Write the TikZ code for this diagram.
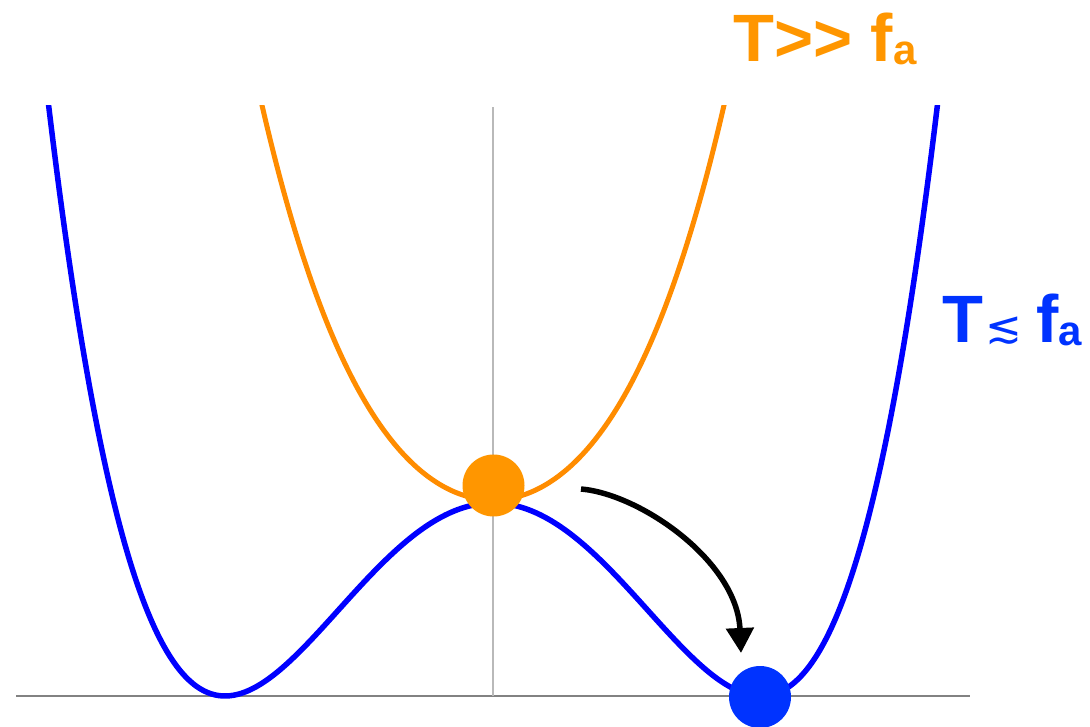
\documentclass[tikz,border=0pt]{standalone}
\usepackage{fontspec}
\setmainfont{Liberation Sans}
\newfontfamily\djvfont{DejaVu Sans}
\usetikzlibrary{arrows.meta}
\definecolor{curveorange}{RGB}{255,140,0}
\definecolor{dotorange}{RGB}{255,150,0}
\definecolor{curveblue}{RGB}{0,0,255}
\definecolor{dotblue}{RGB}{0,51,255}
\definecolor{axisgray}{RGB}{130,130,130}
\definecolor{vgray}{RGB}{185,185,185}
\tikzset{
  potblue/.style={curveblue, line width=5.5pt},
  potorange/.style={curveorange, line width=5pt},
  ball/.style={circle, inner sep=0pt, minimum size=62pt},
  axisline/.style={axisgray, line width=1.6pt},
  vline/.style={vgray, line width=1.6pt},
  rollarrow/.style={black, line width=5.5pt, -{Triangle[width=27pt,length=25pt]}},
  lbl/.style={inner sep=0pt, font=\bfseries}
}
\begin{document}
\begin{tikzpicture}[x=1pt,y=1pt]
\useasboundingbox (0,0) rectangle (1090,726);
% axes
\coordinate (axL) at (16,30);
\coordinate (axR) at (970,30);
\coordinate (vB) at (493,30);
\coordinate (vT) at (493,619);
\draw[axisline] (axL) -- (axR);
\draw[vline] (vB) -- (vT);
% curves
\begin{scope}
\clip (0,0) rectangle (1090,620);
\draw[potblue] plot[domain=-452:452, samples=240, smooth]
  ({493+\x}, {30+193*((\x/268)^2-1)^2});
\draw[potorange] plot[domain=-245:245, samples=200, smooth]
  ({493+\x}, {30+196+388*(\x/268)^2+193*(\x/268)^4});
\end{scope}
% balls
\node[ball, fill=dotorange] (hot) at (493.5,240.5) {};
\node[ball, fill=dotblue] (cold) at (760,29) {};
% arrow
\coordinate (aS) at (581,237);
\coordinate (aE) at (741,73);
\draw[rollarrow] (aS) .. controls (640,232) and (737,165) .. (aE);
% labels
\node[lbl, anchor=base west, text=dotorange] (hotlbl) at (733,664)
  {\fontsize{67}{67}\selectfont T>{}> f\raisebox{-3pt}{\fontsize{42}{42}\selectfont a}};
\node[lbl, anchor=base west, text=dotblue] (coldlbl) at (942,383)
  {\fontsize{67}{67}\selectfont T\hspace{2pt}{\fontsize{44}{44}\selectfont\djvfont\mdseries ≲}\hspace{14pt}f\raisebox{-3pt}{\fontsize{42}{42}\selectfont a}};
\end{tikzpicture}
\end{document}
